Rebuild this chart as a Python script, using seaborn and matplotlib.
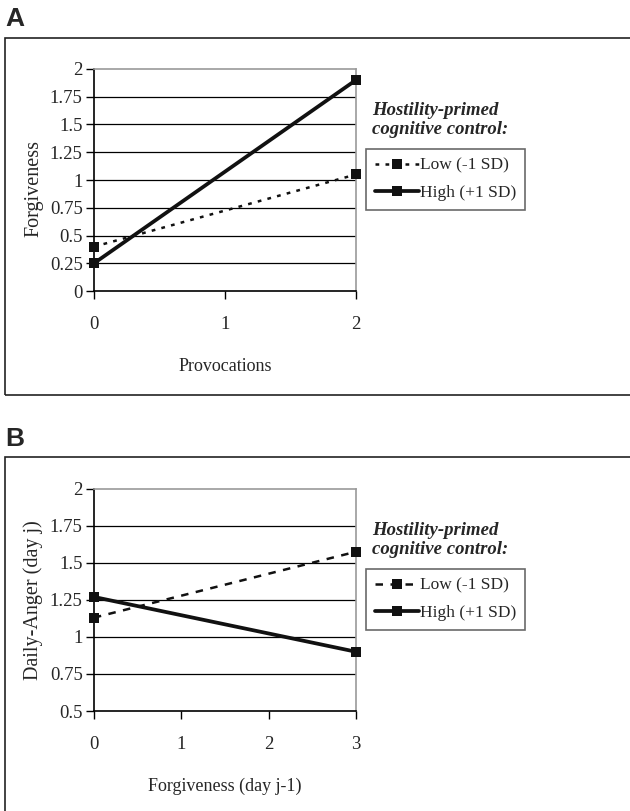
import pandas as pd
import numpy as np
import matplotlib
matplotlib.use("Agg")
import matplotlib.pyplot as plt
from matplotlib.patches import Rectangle
from matplotlib.lines import Line2D
import seaborn as sns

# Panel A data
a_x = [0, 2]
a_low = [0.40, 1.05]
a_high = [0.25, 1.90]

# Panel B data
b_x = [0, 3]
b_low = [1.13, 1.575]
b_high = [1.27, 0.90]

series_names = ["Low (-1 SD)", "High (+1 SD)"]
legend_title = "Hostility-primed\ncognitive control:"

sns.set_style("white")
plt.rcParams['font.family'] = ['Liberation Serif', 'DejaVu Serif']

fig = plt.figure(figsize=(6.3, 8.11), dpi=100)

# panel frames
fig.patches.append(Rectangle((0.008, 0.513), 1.1, 0.440, transform=fig.transFigure,
                             fill=False, edgecolor='#222222', lw=1.2))
fig.patches.append(Rectangle((0.008, -0.05), 1.1, 0.4865, transform=fig.transFigure,
                             fill=False, edgecolor='#222222', lw=1.2))
fig.text(0.008, 0.962, "A", family='Liberation Sans', weight='bold', fontsize=19, va='bottom')
fig.text(0.008, 0.444, "B", family='Liberation Sans', weight='bold', fontsize=19, va='bottom')


def draw_panel(ax, xs, low, high, low_ls, ylim, yticks, ylabels, xlabel, ylabel, ylab_y=0.5):
    df = pd.DataFrame({"x": xs + xs,
                       "y": low + high,
                       "group": [series_names[0]] * len(xs) + [series_names[1]] * len(xs)})
    sns.lineplot(data=df[df.group == series_names[0]], x="x", y="y", ax=ax, color='#111111',
                 lw=1.8, linestyle=low_ls, marker='s', markersize=6.5, markeredgewidth=0,
                 legend=False, zorder=4, clip_on=False)
    sns.lineplot(data=df[df.group == series_names[1]], x="x", y="y", ax=ax, color='#111111',
                 lw=2.7, linestyle='-', marker='s', markersize=6.5, markeredgewidth=0,
                 legend=False, zorder=5, clip_on=False)
    ax.set_ylim(*ylim)
    ax.set_xlim(xs[0], xs[-1])
    ax.set_yticks(yticks)
    ax.set_yticklabels(ylabels)
    ax.set_xticks(range(xs[0], xs[-1] + 1))
    for yv in yticks[1:-1]:
        ax.axhline(yv, color='black', lw=0.9, zorder=1)
    ax.spines['left'].set_color('black')
    ax.spines['bottom'].set_color('black')
    ax.spines['top'].set_color('#999999')
    ax.spines['right'].set_color('#999999')
    for s in ax.spines.values():
        s.set_linewidth(1.2)
    ax.tick_params(axis='both', direction='out', length=6, width=1, labelsize=13.5,
                   left=True, bottom=True, color='black')
    ax.tick_params(axis='x', pad=12)
    ax.tick_params(axis='y', pad=2)
    ax.set_xlabel(xlabel, fontsize=13, labelpad=18)
    ax.set_ylabel(ylabel, fontsize=14.5, labelpad=8)
    ax.yaxis.set_label_coords(-0.193, ylab_y)

    handles = [Line2D([], [], color='#111111', lw=1.8, linestyle=low_ls, marker='s',
                      markersize=6.5, markeredgewidth=0),
               Line2D([], [], color='#111111', lw=2.7, marker='s', markersize=6.5,
                      markeredgewidth=0)]
    leg = ax.legend(handles, series_names, loc='upper left', bbox_to_anchor=(1.04, 0.64),
                    frameon=True, fancybox=False, edgecolor='#444444', fontsize=12.5,
                    handlelength=2.5, handletextpad=0.1, borderpad=0.5, labelspacing=0.65,
                    borderaxespad=0)
    leg.get_frame().set_linewidth(1.2)
    ax.text(1.06, 0.77, legend_title, transform=ax.transAxes, fontsize=13.5,
            weight='bold', style='italic', va='center', ha='left', linespacing=1.1)


ax_a = fig.add_axes([0.149, 0.641, 0.416, 0.274])
draw_panel(ax_a, a_x, a_low, a_high, (0, (1.5, 2.5)), (0, 2),
           [0, 0.25, 0.5, 0.75, 1, 1.25, 1.5, 1.75, 2],
           ["0", "0.25", "0.5", "0.75", "1", "1.25", "1.5", "1.75", "2"],
           "Provocations", "Forgiveness", ylab_y=0.46)

ax_b = fig.add_axes([0.149, 0.1233, 0.416, 0.274])
draw_panel(ax_b, b_x, b_low, b_high, (0, (3, 3)), (0.5, 2),
           [0.5, 0.75, 1, 1.25, 1.5, 1.75, 2],
           ["0.5", "0.75", "1", "1.25", "1.5", "1.75", "2"],
           "Forgiveness (day j-1)", "Daily-Anger (day j)")

fig.savefig("out.png", dpi=100)
